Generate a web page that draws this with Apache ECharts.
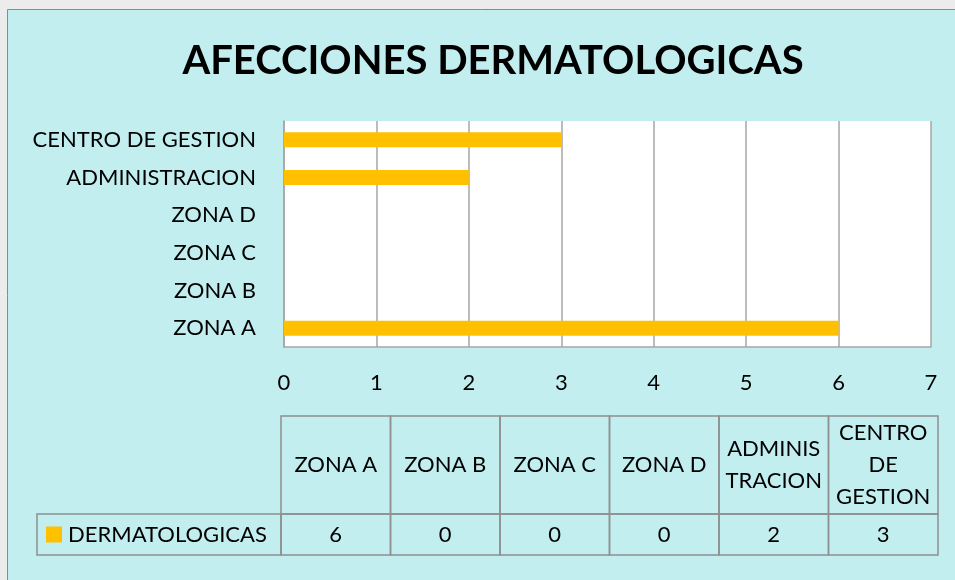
<!DOCTYPE html>
<html>
<head>
<meta charset="utf-8">
<script src="https://cdn.jsdelivr.net/npm/echarts@6/dist/echarts.min.js"></script>
<style>
  html, body { margin: 0; padding: 0; background: #ececec; }
  #chart { width: 955px; height: 580px; }
</style>
</head>
<body>
<div id="chart"></div>
<script>
const categories = ["ZONA A", "ZONA B", "ZONA C", "ZONA D", "ADMINISTRACION", "CENTRO DE GESTION"];
const tableHeaders = ["ZONA A", "ZONA B", "ZONA C", "ZONA D", "ADMINIS\nTRACION", "CENTRO\nDE\nGESTION"];
const seriesName = "DERMATOLOGICAS";
const values = [6, 0, 0, 0, 2, 3];
const xTicks = [0, 1, 2, 3, 4, 5, 6, 7];

const FONT = "Lato";
const BAR = "#ffc000";
const GRID_LINE = "#a6a6a6";
const TABLE_LINE = "#8f8f8f";

const chart = echarts.init(document.getElementById("chart"));

chart.setOption({
  backgroundColor: "#ececec",
  animation: false,
  title: {
    text: "AFECCIONES DERMATOLOGICAS",
    left: 488,
    textAlign: "center",
    top: 36,
    textStyle: { fontFamily: FONT, fontWeight: "bold", fontSize: 40, color: "#000" }
  },
  graphic: [
    {
      type: "rect",
      z: -10,
      shape: { x: 7.5, y: 9.5, width: 960, height: 590 },
      style: { fill: "#c2eeef", stroke: "#8a8a8a", lineWidth: 1 }
    }
  ],
  grid: [
    { left: 284, top: 121, width: 647, height: 226, show: true, backgroundColor: "#fff", borderWidth: 0 },
    { left: 281, top: 416, width: 657, height: 139 }
  ],
  xAxis: [
    {
      type: "value",
      min: xTicks[0],
      max: xTicks[xTicks.length - 1],
      interval: 1,
      axisLine: { show: true, lineStyle: { color: GRID_LINE, width: 1.5 } },
      axisTick: { show: false },
      splitLine: { show: true, lineStyle: { color: GRID_LINE, width: 1.5 } },
      axisLabel: { margin: 25, fontFamily: FONT, fontSize: 22, color: "#000" }
    },
    {
      type: "category",
      gridIndex: 1,
      data: tableHeaders,
      show: false
    }
  ],
  yAxis: [
    {
      type: "category",
      data: categories,
      axisLine: { show: true, lineStyle: { color: GRID_LINE, width: 1.5 } },
      axisTick: { show: false },
      axisLabel: { margin: 28, fontFamily: FONT, fontSize: 22, color: "#000" }
    },
    {
      type: "value",
      gridIndex: 1,
      min: 0,
      max: 1,
      show: false
    }
  ],
  series: [
    {
      name: seriesName,
      type: "bar",
      data: values,
      barWidth: 15,
      itemStyle: { color: BAR }
    },
    {
      type: "custom",
      xAxisIndex: 1,
      yAxisIndex: 1,
      data: values.map((v, i) => [i, v]),
      renderItem: (params, api) => {
        const i = api.value(0);
        const cs = params.coordSys;
        const cx = api.coord([i, 0])[0];
        const w = api.size([1, 0])[0];
        const x0 = cx - w / 2;
        const headH = 98;
        const rowTop = cs.y + headH;
        const rowH = cs.height - headH;
        const lineStyle = { fill: null, stroke: TABLE_LINE, lineWidth: 1.5 };
        const children = [
          { type: "rect", shape: { x: x0, y: cs.y, width: w, height: headH }, style: lineStyle },
          { type: "rect", shape: { x: x0, y: rowTop, width: w, height: rowH }, style: lineStyle },
          {
            type: "text",
            style: {
              x: cx, y: cs.y + headH / 2, text: tableHeaders[i],
              align: "center", verticalAlign: "middle", lineHeight: 32,
              font: "22px " + FONT, fill: "#000"
            }
          },
          {
            type: "text",
            style: {
              x: cx, y: rowTop + rowH / 2, text: String(api.value(1)),
              align: "center", verticalAlign: "middle",
              font: "22px " + FONT, fill: "#000"
            }
          }
        ];
        if (i === 0) {
          const left = 37;
          children.push(
            { type: "rect", shape: { x: left, y: rowTop, width: x0 - left, height: rowH }, style: lineStyle },
            { type: "rect", shape: { x: 46, y: rowTop + rowH / 2 - 8, width: 16, height: 16 }, style: { fill: BAR } },
            {
              type: "text",
              style: {
                x: 68, y: rowTop + rowH / 2, text: seriesName,
                align: "left", verticalAlign: "middle",
                font: "22px " + FONT, fill: "#000"
              }
            }
          );
        }
        return { type: "group", children };
      }
    }
  ]
});
</script>
</body>
</html>
